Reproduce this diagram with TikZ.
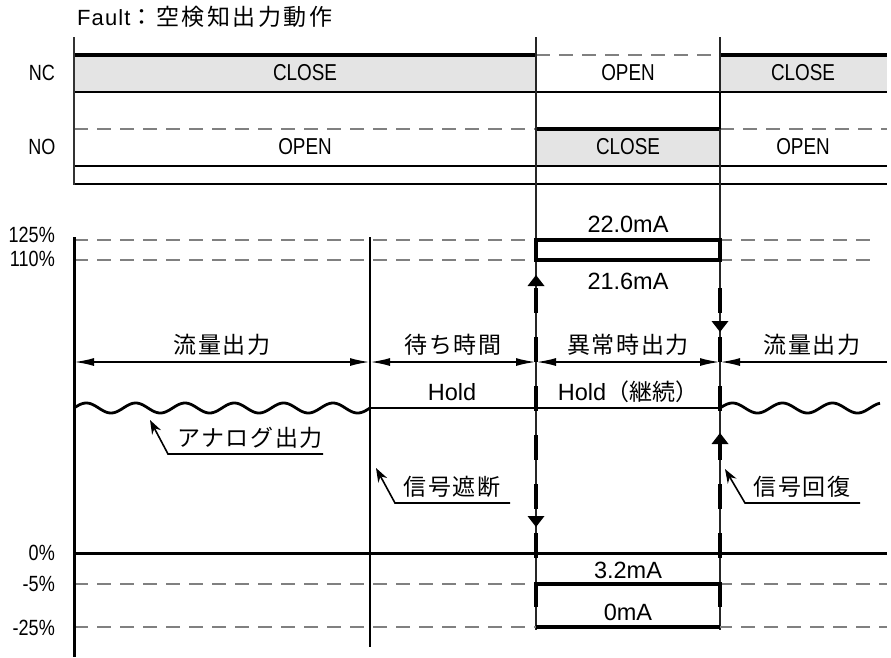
\documentclass[tikz,border=0pt]{standalone}
\usepackage{fontspec}
\setmainfont{Liberation Sans}
\newfontfamily\narrowfont[FakeStretch=0.82]{Liberation Sans}
\newfontfamily\jpfont{Noto Sans CJK JP}
\newfontfamily\jpsp[LetterSpace=7]{Noto Sans CJK JP}
\newfontfamily\jptitle[LetterSpace=11]{Noto Sans CJK JP}
\newfontfamily\titlelat[LetterSpace=5]{Liberation Sans}
\usetikzlibrary{arrows.meta}
\definecolor{fillgray}{HTML}{E4E4E4}
\definecolor{dashgray}{HTML}{808080}
\tikzset{
  thinln/.style={draw=black, line width=1.6pt},
  vline/.style={draw=black!85, line width=1.2pt},
  thickln/.style={draw=black, line width=4pt},
  dashln/.style={draw=dashgray, line width=1.2pt, dash pattern=on 14pt off 9pt},
  holdln/.style={draw=black, line width=2.8pt},
  dimarrow/.style={draw=black, line width=2pt},
  tipdash/.style={draw=black, line width=4pt, dash pattern=on 25pt off 24pt},
  leader/.style={draw=black, line width=1.6pt},
  narrowlbl/.style={font=\narrowfont\fontsize{23}{26}\selectfont, inner sep=0pt},
  axlbl/.style={font=\narrowfont\fontsize{22}{24}\selectfont, inner sep=0pt},
  mlbl/.style={font=\fontsize{23.5}{26}\selectfont, inner sep=0pt},
  jplbl/.style={font=\jpsp\fontsize{23}{28}\selectfont, inner sep=0pt},
  dimtip/.tip={Latex[length=20pt,width=8pt]},
}
\begin{document}
\begin{tikzpicture}[x=1pt,y=-1pt]
\useasboundingbox (0,0) rectangle (891,657);

% ---------- title ----------
\node[font=\titlelat\fontsize{22}{26}\selectfont, inner sep=0pt, anchor=west] (title) at (77,17) {Fault\jptitle\fontsize{23}{26}\selectfont ：空検知出力動作};

% ---------- contact chart ----------
\fill[fillgray] (74,55) rectangle (536,92);
\fill[fillgray] (720,55) rectangle (887,92);
\fill[fillgray] (536,129) rectangle (720,166);

\draw[thickln] (74,55) -- (536,55);
\draw[thickln] (720,55) -- (887,55);
\draw[dashln] (536,55) -- (720,55);
\draw[thinln] (74,92) -- (887,92);
\draw[dashln] (74,129) -- (536,129);
\draw[dashln] (720,129) -- (887,129);
\draw[thickln] (536,129) -- (720,129);
\draw[thinln] (74,166) -- (887,166);
\draw[thinln] (74,184) -- (887,184);
\draw[draw=black!80, line width=2pt] (74,37) -- (74,185);

% transition verticals
\draw[vline] (536,37) -- (536,630);
\draw[vline] (720,37) -- (720,630);
\draw[draw=black, line width=2pt] (720,92) -- (720,129);

\node[axlbl] (nc) at (42,73) {NC};
\node[axlbl] (no) at (42,147) {NO};
\node[narrowlbl] (nc1) at (305,73) {CLOSE};
\node[narrowlbl] (nc2) at (628,73) {OPEN};
\node[narrowlbl] (nc3) at (803,73) {CLOSE};
\node[narrowlbl] (no1) at (305,147) {OPEN};
\node[narrowlbl] (no2) at (628,147) {CLOSE};
\node[narrowlbl] (no3) at (803,147) {OPEN};

% ---------- analog output chart ----------
\draw[dashln] (74,240) -- (878,240);
\draw[dashln] (74,260) -- (878,260);
\draw[dashln] (74,584) -- (887,584);
\draw[dashln] (74,627) -- (887,627);

\node[axlbl, anchor=east] (p125) at (55,235) {125\%};
\node[axlbl, anchor=east] (p110) at (55,259) {110\%};
\node[axlbl, anchor=east] (p0) at (55,553) {0\%};
\node[axlbl, anchor=east] (pm5) at (55,584) {-5\%};
\node[axlbl, anchor=east] (pm25) at (55,628) {-25\%};

\draw[draw=black, line width=3pt] (74,237) -- (74,657);
\draw[draw=black, line width=2.4pt] (370,237) -- (370,647);
\draw[draw=black, line width=3pt] (74,553) -- (887,553);

% fault output levels
\draw[thickln] (536,240) rectangle (720,260);
\draw[thickln] (536,584) -- (720,584);
\draw[thickln] (536,627) -- (720,627);
\node[mlbl] (ma22) at (628,224) {22.0mA};
\node[mlbl] (ma216) at (628,281) {21.6mA};
\node[mlbl] (ma32) at (628,570) {3.2mA};
\node[mlbl] (ma0) at (628,612) {0mA};

% period dimension arrows
\coordinate (d0) at (74,362);
\coordinate (d1) at (370,362);
\coordinate (d2) at (536,362);
\coordinate (d3) at (720,362);
\coordinate (d4) at (887,362);
\draw[dimarrow, dimtip-dimtip] (d0) -- (d1);
\draw[dimarrow, dimtip-dimtip] (d1) -- (d2);
\draw[dimarrow, dimtip-dimtip] (d2) -- (d3);
\draw[dimarrow, dimtip-] (d3) -- (d4);
\node[jplbl] (t1) at (222,345) {流量出力};
\node[jplbl] (t2) at (453,345) {待ち時間};
\node[jplbl] (t3) at (628,345) {異常時出力};
\node[jplbl] (t4) at (812,345) {流量出力};

% output signal
\draw[holdln] plot[domain=74:370, samples=240, smooth] (\x, {408 - 5*sin(7.2978*(\x-74))});
\draw[holdln] (370,408) -- (720,408);
\draw[holdln] plot[domain=720:880, samples=140, smooth] (\x, {408 - 5*sin(7.2*(\x-720))});
\node[mlbl] (h1) at (452,392) {Hold};
\node[mlbl] (h2) at (628,392) {Hold\jpfont\fontsize{23}{26}\selectfont（継続）};

% transition arrows
\draw[tipdash] (536,288) -- (536,610);
\draw[tipdash] (720,288) -- (720,610);
\fill (536,275) -- (544.5,286) -- (527.5,286) -- cycle;
\fill (536,527) -- (544.5,516) -- (527.5,516) -- cycle;
\fill (720,332) -- (728.5,321) -- (711.5,321) -- cycle;
\fill (720,433) -- (728.5,444) -- (711.5,444) -- cycle;

% annotations
\draw[leader, {Stealth[length=14pt,width=10pt]}-] (150,420) -- (168,454) -- (323,454);
\node[jplbl] (ann1) at (250,438) {アナログ出力};
\draw[leader, {Stealth[length=14pt,width=10pt]}-] (376,468) -- (395,503) -- (510,503);
\node[jplbl] (ann2) at (452,487) {信号遮断};
\draw[leader, {Stealth[length=14pt,width=10pt]}-] (725,469) -- (745,503) -- (860,503);
\node[jplbl] (ann3) at (802,487) {信号回復};
\end{tikzpicture}
\end{document}
